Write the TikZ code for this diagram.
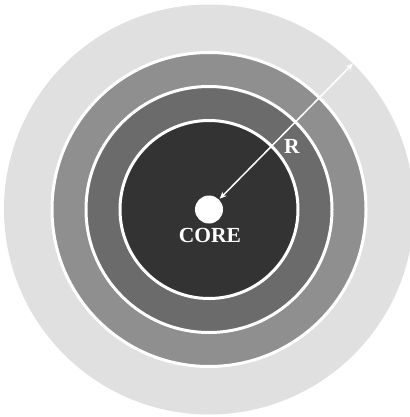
\documentclass[tikz,border=0pt]{standalone}
\usepackage{fontspec}
\setmainfont{Liberation Serif}
\usetikzlibrary{arrows.meta,calc}
\definecolor{ringA}{RGB}{224,224,224}
\definecolor{ringB}{RGB}{143,143,143}
\definecolor{ringC}{RGB}{107,107,107}
\definecolor{ringD}{RGB}{51,51,51}
\tikzset{
  ringline/.style={draw=white, line width=3pt},
  lbl/.style={text=white, font=\bfseries\fontsize{21.5}{25}\selectfont, inner sep=0pt}
}
\begin{document}
\begin{tikzpicture}[x=1pt,y=-1pt]
\useasboundingbox (0,0) rectangle (409,417);
\coordinate (c) at (209,209.5);
\fill[ringA] (c) circle (205);
\filldraw[ringline, fill=ringB] (c) circle (157);
\filldraw[ringline, fill=ringC] (c) circle (123);
\filldraw[ringline, fill=ringD] (c) circle (89);
\node[circle, fill=white, minimum size=28pt, inner sep=0pt] (dot) at (c) {};
\coordinate (rim) at ($(c)+(-45.4:205)$);
\draw[white, line width=1.5pt, {Stealth[length=7pt,width=6pt]}-{Stealth[length=7pt,width=6pt]}, shorten <=1pt] (dot.45.4) -- (rim);
\node[lbl] (R) at (292,146) {R};
\node[lbl] (core) at (210,235) {CORE};
\end{tikzpicture}
\end{document}
